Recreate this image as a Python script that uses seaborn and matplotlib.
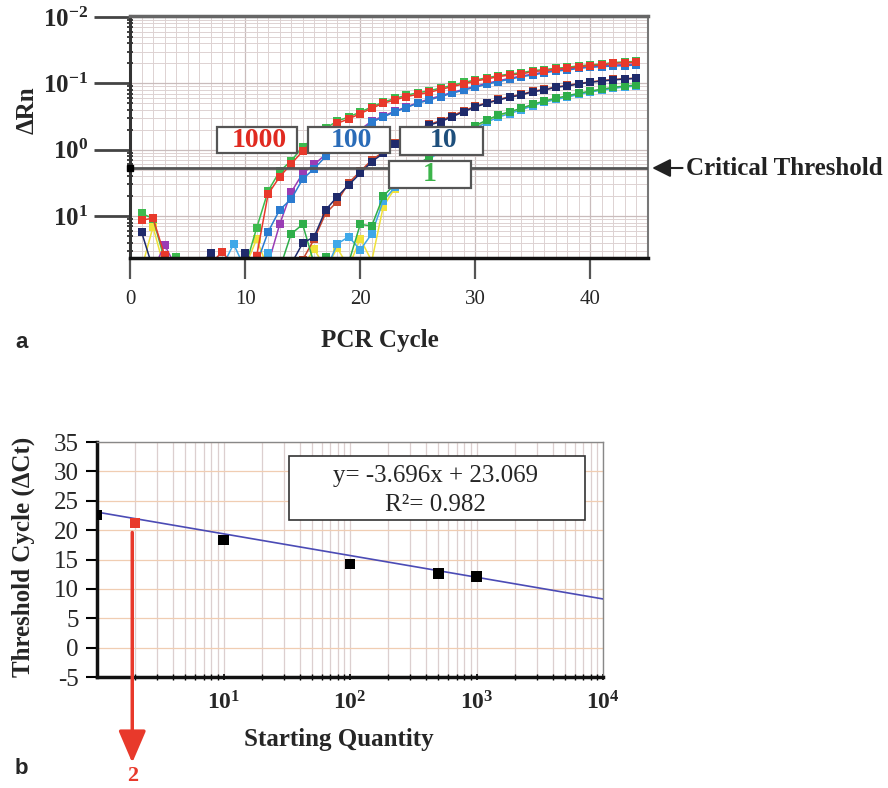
import pandas as pd
import matplotlib
matplotlib.use("Agg")
import matplotlib.pyplot as plt
import matplotlib.ticker as mtick
from matplotlib.patches import Rectangle
import seaborn as sns

# ---- panel a: amplification curves (delta Rn per PCR cycle) ----
cycles = list(range(1, 45))

red_1000 = [0.0087, 0.0093, 0.0026, 0.0017, 0.0015, 0.0016, 0.0019, 0.0029, 0.0018, 0.0020,
            0.0025, 0.0215, 0.039, 0.061, 0.095, 0.14, 0.19, 0.25, 0.29, 0.35,
            0.42, 0.50, 0.56, 0.63, 0.68, 0.73, 0.81, 0.89, 0.98, 1.08,
            1.16, 1.26, 1.33, 1.38, 1.50, 1.55, 1.63, 1.68, 1.78, 1.84,
            1.89, 2.00, 2.04, 2.07]
green_1000 = [0.0110, 0.0092, 0.0022, 0.0024, 0.0016, 0.0015, 0.0017, 0.0016, 0.0019, 0.0017,
              0.0066, 0.024, 0.047, 0.068, 0.11, 0.15, 0.21, 0.27, 0.31, 0.37,
              0.44, 0.52, 0.59, 0.66, 0.72, 0.77, 0.85, 0.93, 1.03, 1.12,
              1.21, 1.30, 1.38, 1.44, 1.55, 1.61, 1.68, 1.74, 1.83, 1.90,
              1.95, 2.05, 2.10, 2.13]
blue_100 = [0.0016, 0.0015, 0.0017, 0.0016, 0.0015, 0.0017, 0.0016, 0.0018, 0.0015, 0.0017,
            0.0019, 0.0058, 0.0124, 0.018, 0.036, 0.052, 0.079, 0.105, 0.14, 0.19,
            0.26, 0.31, 0.37, 0.43, 0.50, 0.56, 0.63, 0.71, 0.79, 0.87,
            0.97, 1.06, 1.15, 1.26, 1.33, 1.44, 1.53, 1.58, 1.68, 1.74,
            1.78, 1.82, 1.84, 1.89]
purple_100 = [0.0016, 0.0015, 0.0037, 0.0017, 0.0016, 0.0015, 0.0018, 0.0016, 0.0017, 0.0015,
              0.0016, 0.0019, 0.0075, 0.0228, 0.044, 0.060, 0.085, 0.11, 0.15, 0.20,
              0.27, 0.32, 0.38, 0.44, 0.51, 0.58, 0.65, 0.73, 0.81, 0.90,
              1.00, 1.09, 1.19, 1.29, 1.37, 1.48, 1.57, 1.63, 1.72, 1.78,
              1.83, 1.88, 1.91, 1.95]
navy_10 = [0.0058, 0.0016, 0.0015, 0.0016, 0.0015, 0.0017, 0.0028, 0.0016, 0.0017, 0.0028,
           0.0018, 0.0017, 0.0016, 0.0019, 0.0039, 0.0049, 0.0124, 0.0196, 0.0294, 0.044,
           0.066, 0.088, 0.12, 0.155, 0.195, 0.235, 0.264, 0.314, 0.373, 0.44,
           0.50, 0.56, 0.615, 0.667, 0.747, 0.79, 0.87, 0.91, 0.977, 1.035,
           1.08, 1.12, 1.16, 1.18]
brick_10 = [0.0015, 0.0016, 0.0017, 0.0015, 0.0016, 0.0015, 0.0017, 0.0016, 0.0015, 0.0017,
            0.0016, 0.0015, 0.0017, 0.0018, 0.0022, 0.0045, 0.011, 0.0165, 0.0318, 0.047,
            0.070, 0.092, 0.125, 0.16, 0.20, 0.24, 0.275, 0.325, 0.385, 0.45,
            0.51, 0.57, 0.63, 0.68, 0.76, 0.81, 0.88, 0.93, 0.99, 1.05,
            1.10, 1.14, 1.17, 1.20]
green_1 = [0.0015, 0.0016, 0.0017, 0.0015, 0.0016, 0.0015, 0.0017, 0.0016, 0.0015, 0.0016,
           0.0017, 0.0015, 0.0016, 0.0054, 0.0075, 0.0019, 0.0024, 0.0018, 0.0020, 0.0075,
           0.0071, 0.020, 0.030, 0.045, 0.060, 0.078, 0.10, 0.13, 0.17, 0.23,
           0.28, 0.333, 0.373, 0.42, 0.483, 0.541, 0.594, 0.65, 0.707, 0.766,
           0.813, 0.87, 0.91, 0.94]
lightblue_1 = [0.0016, 0.0015, 0.0016, 0.0017, 0.0015, 0.0016, 0.0015, 0.0017, 0.0038, 0.0016,
               0.0017, 0.0028, 0.0016, 0.0015, 0.0017, 0.0016, 0.0015, 0.0038, 0.0049, 0.0031,
               0.0054, 0.017, 0.027, 0.040, 0.055, 0.072, 0.095, 0.12, 0.16, 0.21,
               0.26, 0.31, 0.35, 0.40, 0.46, 0.52, 0.57, 0.62, 0.68, 0.74,
               0.79, 0.84, 0.88, 0.91]
yellow_1 = [0.0016, 0.0069, 0.0016, 0.0015, 0.0016, 0.0017, 0.0015, 0.0016, 0.0015, 0.0017,
            0.0045, 0.0016, 0.0015, 0.0016, 0.0017, 0.0032, 0.0016, 0.0033, 0.0017, 0.0046,
            0.0021, 0.0139, 0.026, 0.042, 0.057, 0.075, 0.098, 0.125, 0.165, 0.22,
            0.27, 0.32, 0.36, 0.41, 0.47, 0.53, 0.58, 0.63, 0.69, 0.75,
            0.80, 0.85, 0.89, 0.92]

threshold = 0.053
ytick_vals = [10, 1, 0.1, 0.01]
ytick_text = [r"$\mathbf{10^{-2}}$", r"$\mathbf{10^{-1}}$", r"$\mathbf{10^{0}}$", r"$\mathbf{10^{1}}$"]
box_labels = ["1000", "100", "10", "1"]

# ---- panel b: standard curve ----
quantity = [1, 10, 100, 500, 1000]
ct = [22.6, 18.3, 14.2, 12.6, 12.1]
unknown_q = [2]
unknown_ct = [21.2]
slope, intercept = -3.696, 23.069
fit_range = [1, 10000]

series = {
    "yellow_1": yellow_1, "brick_10": brick_10, "purple_100": purple_100,
    "green_1000": green_1000, "lightblue_1": lightblue_1, "green_1": green_1,
    "blue_100": blue_100, "navy_10": navy_10, "red_1000": red_1000,
}
run_colors = {
    "red_1000": "#e8392b", "green_1000": "#3dba4e", "blue_100": "#2b7bd0",
    "purple_100": "#9a3cb4", "navy_10": "#1f2a6b", "brick_10": "#c9452c",
    "green_1": "#2fae4a", "lightblue_1": "#3fa8e8", "yellow_1": "#f0e23a",
}

sns.set_style("white")
plt.rcParams["font.family"] = ["Liberation Serif", "DejaVu Serif"]
plt.rcParams["mathtext.fontset"] = "custom"
plt.rcParams["mathtext.rm"] = "Liberation Serif"
plt.rcParams["mathtext.bf"] = "Liberation Serif:bold"
plt.rcParams["axes.unicode_minus"] = False

fig = plt.figure(figsize=(8.88, 7.88), dpi=100)
ax1 = fig.add_axes([130 / 888, 1 - 258 / 788, 518 / 888, 242 / 788])
ax2 = fig.add_axes([97 / 888, 1 - 677 / 788, 506 / 888, 235 / 788])

frames = []
for name, vals in series.items():
    frames.append(pd.DataFrame({"cycle": cycles, "drn": vals, "run": name}))
amp = pd.concat(frames, ignore_index=True)

sns.lineplot(data=amp, x="cycle", y="drn", hue="run", hue_order=list(series.keys()),
             palette=run_colors, marker="s", markersize=5.3, markeredgewidth=0,
             linewidth=1.1, estimator=None, legend=False, ax=ax1)

ax1.set_yscale("log")
ax1.set_xlim(0, 45)
ax1.set_ylim(0.00234, 10.3)
ax1.set_yticks(ytick_vals)
ax1.set_yticklabels(ytick_text)
ax1.yaxis.set_minor_formatter(mtick.NullFormatter())
ax1.xaxis.set_major_locator(mtick.FixedLocator([0, 10, 20, 30, 40]))
ax1.xaxis.set_minor_locator(mtick.MultipleLocator(1))
ax1.set_axisbelow(True)
ax1.grid(which="major", color="#c9bcbc", lw=0.9)
ax1.grid(which="minor", color="#ddd2d2", lw=0.7)
ax1.tick_params(axis="y", which="major", length=26, width=2, color="#444", pad=4,
                labelsize=18, left=True)
ax1.tick_params(axis="y", which="minor", length=5, width=1.3, color="#333",
                direction="inout", left=True)
ax1.tick_params(axis="x", which="major", length=15, width=1.6, color="#555", pad=8,
                labelsize=15, bottom=True)
ax1.tick_params(axis="x", which="minor", length=0)
for side, col, w in [("left", "#333", 2.2), ("bottom", "#111", 2.5),
                     ("top", "#666", 2.5), ("right", "#777", 1.5)]:
    ax1.spines[side].set_color(col)
    ax1.spines[side].set_linewidth(w)

ax1.axhline(threshold, color="#555", lw=2, zorder=3)
ax1.plot([0], [threshold], "s", color="k", ms=4, clip_on=False, zorder=6)

ax1.set_xlabel("PCR Cycle", fontsize=18, fontweight="bold", va="center")
ax1.xaxis.set_label_coords(0.483, -0.339)
ax1.set_ylabel("\u0394Rn", fontsize=18, fontweight="bold", va="center")
ax1.yaxis.set_label_coords(-0.199, 0.612)

# concentration boxes (axes fractions)
box_specs = [
    (0.167, 0.4326, 0.156, 0.110, "#e02a20", 0.250, 0.4835),
    (0.344, 0.4326, 0.157, 0.110, "#2a6cb8", 0.428, 0.4835),
    (0.521, 0.4256, 0.160, 0.117, "#1e4f7c", 0.606, 0.4835),
    (0.5006, 0.288, 0.157, 0.114, "#3cb44b", 0.579, 0.345),
]
for (bx, by, bw, bh, tcol, tx, ty), lab in zip(box_specs, box_labels):
    ax1.add_patch(Rectangle((bx, by), bw, bh, transform=ax1.transAxes, facecolor="white",
                            edgecolor="#555", lw=1.6, zorder=5))
    ax1.text(tx, ty, lab, transform=ax1.transAxes, ha="center", va="center",
             fontsize=20, fontweight="bold", color=tcol, zorder=6)

ax1.annotate("Critical Threshold", xy=(1.008, threshold), xytext=(1.073, threshold),
             xycoords=ax1.get_yaxis_transform(), textcoords=ax1.get_yaxis_transform(),
             ha="left", va="center", fontsize=18, fontweight="bold", color="#222",
             arrowprops=dict(arrowstyle="-|>,head_length=0.8,head_width=0.4", color="#222",
                             lw=1.5, shrinkA=0, shrinkB=0, relpos=(0, 0.5), mutation_scale=14),
             annotation_clip=False)

# ---- panel b ----
ax2.set_xscale("log")
ax2.plot(fit_range, [slope * 0 + intercept, slope * 4 + intercept], color="#4b4bb5", lw=1.2, zorder=3)
sns.scatterplot(x=quantity, y=ct, marker="s", s=55, color="black", edgecolor="none",
                zorder=4, ax=ax2)
sns.scatterplot(x=unknown_q, y=unknown_ct, marker="s", s=55, color="#e8392b",
                edgecolor="none", zorder=4, ax=ax2)

ax2.set_xlim(1, 10000)
ax2.set_ylim(-5, 35)
ax2.set_yticks(range(-5, 36, 5))
ax2.set_xticks([10, 100, 1000, 10000])
ax2.set_xticklabels([r"$\mathbf{10^{1}}$", r"$\mathbf{10^{2}}$", r"$\mathbf{10^{3}}$", r"$\mathbf{10^{4}}$"])
ax2.xaxis.set_minor_locator(mtick.LogLocator(base=10, subs=range(2, 10), numticks=20))
ax2.xaxis.set_minor_formatter(mtick.NullFormatter())
ax2.set_axisbelow(True)
ax2.grid(axis="x", which="both", color="#dccfcf", lw=0.9)
ax2.grid(axis="y", which="major", color="#f0cdb2", lw=0.9)
ax2.tick_params(axis="y", which="major", length=8, width=1.5, color="black", pad=5,
                labelsize=18, left=True)
ax2.tick_params(axis="x", which="major", length=5, width=1.2, color="black", pad=8,
                labelsize=17, direction="inout", bottom=True)
ax2.tick_params(axis="x", which="minor", length=5, width=1, color="black",
                direction="inout", bottom=True)
for side, col, w in [("left", "#111", 2.5), ("bottom", "#111", 2.5),
                     ("top", "#888", 1.0), ("right", "#888", 1.0)]:
    ax2.spines[side].set_color(col)
    ax2.spines[side].set_linewidth(w)

ax2.set_xlabel("Starting Quantity", fontsize=18, fontweight="bold", va="center")
ax2.xaxis.set_label_coords(0.478, -0.268)
ax2.set_ylabel("Threshold Cycle (\u0394Ct)", fontsize=18, fontweight="bold", va="center")
ax2.yaxis.set_label_coords(-0.146, 0.51)

ax2.add_patch(Rectangle((0.379, 0.668), 0.585, 0.272, transform=ax2.transAxes,
                        facecolor="white", edgecolor="#333", lw=1.2, zorder=5))
ax2.text(0.668, 0.855, "y= -3.696x + 23.069", transform=ax2.transAxes, ha="center",
         va="center", fontsize=18, zorder=6)
ax2.text(0.668, 0.732, "R\u00b2= 0.982", transform=ax2.transAxes, ha="center",
         va="center", fontsize=18, zorder=6)

ax2.annotate("", xy=(1.9, -19.6), xytext=(1.9, 19.6),
             arrowprops=dict(arrowstyle="-|>,head_length=1.4,head_width=0.6", color="#e8392b",
                             lw=2.5, shrinkA=0, shrinkB=0, mutation_scale=14),
             annotation_clip=False)
ax2.text(1.9, -21.9, "2", ha="center", va="center", fontsize=16, fontweight="bold",
         color="#e8392b", clip_on=False)

fig.text(15 / 888, 1 - 342 / 788, "a", fontsize=16, fontweight="bold",
         family="Liberation Sans", ha="left", va="center")
fig.text(15 / 888, 1 - 768 / 788, "b", fontsize=16, fontweight="bold",
         family="Liberation Sans", ha="left", va="center")

fig.savefig("out.png", dpi=100)
